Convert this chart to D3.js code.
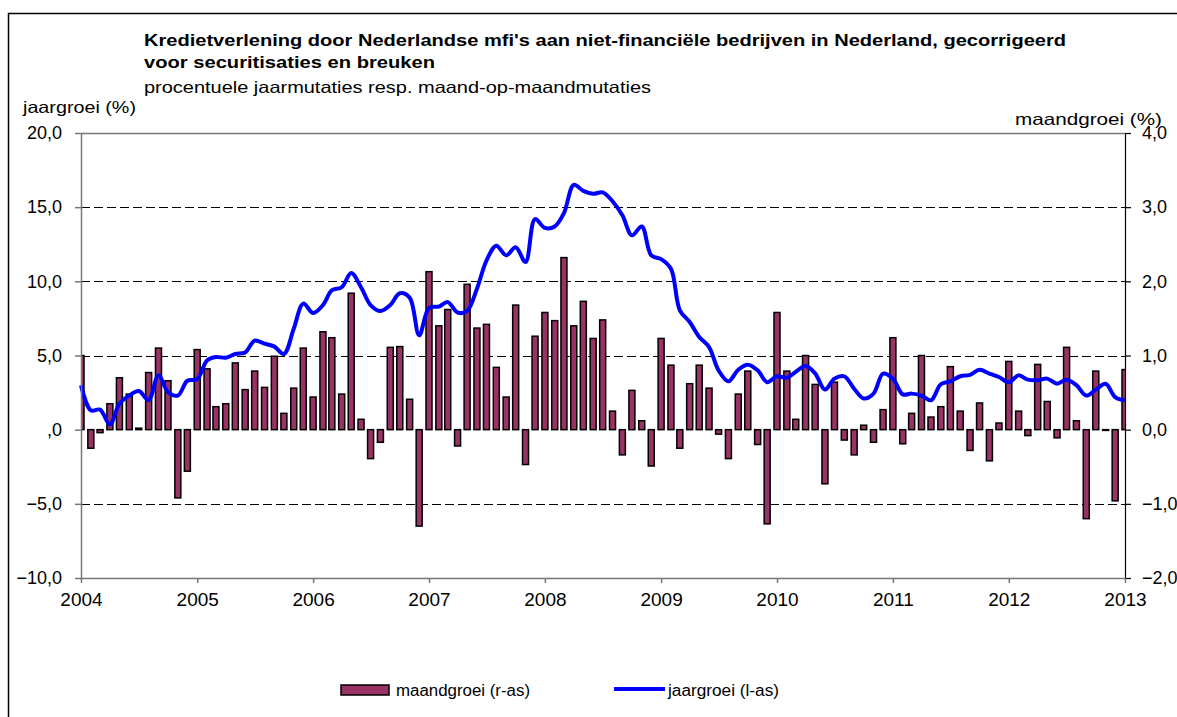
<!DOCTYPE html>
<html>
<head>
<meta charset="utf-8">
<script src="https://cdn.jsdelivr.net/npm/d3@7"></script>
<style>
  body { margin: 0; background: #fff; }
  svg { font-family: "Liberation Sans", Arial, sans-serif; }
</style>
</head>
<body>
<svg width="1177" height="717"></svg>
<script>
/* Data */
const months = d3.timeMonth.range(new Date(2004, 0, 1), new Date(2013, 1, 1)); // 2004-01 .. 2013-01
const years = d3.range(2004, 2014);

// maand-op-maandmutaties (%), rechter as
const maandgroei = [
  1.00, -0.25, -0.04, 0.35, 0.70, 0.48, 0.02, 0.77, 1.10, 0.66, -0.92, -0.56,
  1.08, 0.82, 0.31, 0.35, 0.90, 0.54, 0.79, 0.57, 0.99, 0.22, 0.56, 1.10,
  0.44, 1.32, 1.24, 0.48, 1.84, 0.14, -0.39, -0.17, 1.11, 1.12, 0.41, -1.30,
  2.13, 1.40, 1.62, -0.22, 1.96, 1.37, 1.42, 0.84, 0.44, 1.68, -0.47, 1.26,
  1.58, 1.47, 2.32, 1.40, 1.73, 1.23, 1.48, 0.25, -0.34, 0.53, 0.12, -0.49,
  1.23, 0.87, -0.25, 0.62, 0.87, 0.56, -0.06, -0.39, 0.48, 0.79, -0.20, -1.27,
  1.58, 0.79, 0.14, 1.00, 0.61, -0.73, 0.64, -0.14, -0.34, 0.06, -0.17, 0.27,
  1.24, -0.19, 0.22, 1.00, 0.17, 0.31, 0.85, 0.25, -0.28, 0.36, -0.42, 0.09,
  0.92, 0.25, -0.08, 0.88, 0.38, -0.11, 1.11, 0.12, -1.20, 0.79, -0.01, -0.96,
  0.81
];

// procentuele jaarmutaties (%), linker as
const jaargroei = [
  3.0, 1.3, 1.35, 0.35, 1.75, 2.3, 2.6, 2.0, 3.66, 2.54, 2.3, 3.3,
  3.4, 4.67, 4.9, 4.85, 5.1, 5.2, 6.0, 5.8, 5.6, 5.1, 6.8, 8.5,
  7.87, 8.4, 9.4, 9.6, 10.56, 9.6, 8.4, 8.0, 8.4, 9.2, 8.9, 6.36,
  8.2, 8.3, 8.6, 7.9, 8.0, 9.5, 11.4, 12.4, 11.75, 12.3, 11.3, 14.2,
  13.6, 13.7, 14.6, 16.5, 16.1, 15.9, 16.0, 15.4, 14.45, 13.1, 13.7, 11.75,
  11.5, 10.85, 8.05, 7.26, 6.25, 5.57, 4.0, 3.26, 4.04, 4.38, 4.0, 3.2,
  3.6, 3.5, 3.9, 4.3, 3.8, 2.7, 3.44, 3.6, 2.76, 2.1, 2.43, 3.78,
  3.44, 2.38, 2.43, 2.3, 1.98, 3.06, 3.26, 3.6, 3.7, 4.04, 3.78, 3.55,
  3.2, 3.66, 3.37, 3.33, 3.44, 3.1, 3.37, 3.0, 2.3, 2.7, 3.1, 2.2,
  1.98
];

const leftTicks = [20, 15, 10, 5, 0, -5, -10];
const rightTicks = [4, 3, 2, 1, 0, -1, -2];
const gridTicks = [15, 10, 5, -5];

/* Layout */
const svg = d3.select('svg');
const plot = { left: 81, right: 1125, top: 133, bottom: 578 };

/* Scales */
const x = d3.scaleTime()
  .domain([new Date(2004, 0, 1), new Date(2013, 0, 1)])
  .range([plot.left, plot.right]);
const yL = d3.scaleLinear().domain([-10, 20]).range([plot.bottom, plot.top]);
const yR = d3.scaleLinear().domain([-2, 4]).range([plot.bottom, plot.top]);

const fmt = d => d === 0 ? ',0' : d3.format('.1f')(d).replace('.', ',');

/* Frame */
svg.append('rect')
  .attr('x', 8.5).attr('y', 13.5)
  .attr('width', 1300).attr('height', 800)
  .attr('fill', 'none').attr('stroke', '#000').attr('stroke-width', 1.5);

/* Titles */
const titles = [
  { text: "Kredietverlening door Nederlandse mfi's aan niet-financiële bedrijven in Nederland, gecorrigeerd", y: 46, len: 922, bold: true },
  { text: 'voor securitisaties en breuken', y: 68, len: 291, bold: true },
  { text: 'procentuele jaarmutaties resp. maand-op-maandmutaties', y: 93, len: 507, bold: false }
];
svg.selectAll('text.title').data(titles).enter().append('text')
  .attr('class', 'title')
  .attr('x', 144).attr('y', d => d.y)
  .attr('font-size', 16.5)
  .attr('font-weight', d => d.bold ? 'bold' : 'normal')
  .attr('textLength', d => d.len)
  .attr('lengthAdjust', 'spacingAndGlyphs')
  .text(d => d.text);

svg.append('text').attr('x', 23).attr('y', 113)
  .attr('font-size', 16.5).attr('textLength', 113).attr('lengthAdjust', 'spacingAndGlyphs')
  .text('jaargroei (%)');
svg.append('text').attr('x', 1015).attr('y', 125)
  .attr('font-size', 16.5).attr('textLength', 147).attr('lengthAdjust', 'spacingAndGlyphs')
  .text('maandgroei (%)');

/* Gridlines */
svg.append('g').selectAll('line').data(gridTicks).enter().append('line')
  .attr('x1', plot.left).attr('x2', plot.right)
  .attr('y1', d => Math.round(yL(d)) + 0.5).attr('y2', d => Math.round(yL(d)) + 0.5)
  .attr('stroke', '#000').attr('stroke-dasharray', '9,4');

// top border of plot
svg.append('line')
  .attr('x1', plot.left).attr('x2', plot.right)
  .attr('y1', plot.top + 0.5).attr('y2', plot.top + 0.5)
  .attr('stroke', '#777').attr('stroke-width', 1.5);

/* Bars */
svg.append('clipPath').attr('id', 'clip').append('rect')
  .attr('x', plot.left).attr('y', plot.top)
  .attr('width', plot.right - plot.left).attr('height', plot.bottom - plot.top);

svg.append('g').attr('clip-path', 'url(#clip)')
  .selectAll('rect').data(months).enter().append('rect')
  .attr('x', d => x(d) - 3)
  .attr('width', 6)
  .attr('y', (d, i) => Math.min(yR(maandgroei[i]), yR(0)))
  .attr('height', (d, i) => Math.abs(yR(maandgroei[i]) - yR(0)))
  .attr('fill', '#993366')
  .attr('stroke', '#000')
  .attr('stroke-width', 1.5);

/* Line */
const line = d3.line()
  .x(d => x(d))
  .y((d, i) => yL(jaargroei[i]))
  .curve(d3.curveCatmullRom.alpha(0.5));

svg.append('path')
  .datum(months)
  .attr('d', line)
  .attr('fill', 'none')
  .attr('stroke', '#0000ff')
  .attr('stroke-width', 4)
  .attr('stroke-linejoin', 'round');

/* Axes */
const gLeft = svg.append('g')
  .attr('transform', `translate(${plot.left},0)`)
  .call(d3.axisLeft(yL).tickValues(leftTicks).tickFormat(fmt).tickSize(6).tickPadding(13).tickSizeOuter(0));
gLeft.selectAll('path, line').attr('stroke', '#777').attr('stroke-width', 1.5);

const gRight = svg.append('g')
  .attr('transform', `translate(${plot.right},0)`)
  .call(d3.axisRight(yR).tickValues(rightTicks).tickFormat(d => d3.format('.1f')(d).replace('.', ',')).tickSize(6).tickPadding(11).tickSizeOuter(0));
gRight.selectAll('path, line').attr('stroke', '#000').attr('stroke-width', 1.2);

const gBottom = svg.append('g')
  .attr('transform', `translate(0,${plot.bottom})`)
  .call(d3.axisBottom(x).tickValues(years.map(y => new Date(y, 0, 1))).tickFormat(d3.timeFormat('%Y')).tickSize(5).tickPadding(10).tickSizeOuter(0));
gBottom.selectAll('path, line').attr('stroke', '#777').attr('stroke-width', 1.5);

svg.selectAll('.tick text')
  .attr('font-family', '"Liberation Sans", Arial, sans-serif')
  .attr('fill', '#000');
gLeft.selectAll('.tick text').attr('font-size', 18);
gRight.selectAll('.tick text').attr('font-size', 18);
gBottom.selectAll('.tick text').attr('font-size', 19);

/* Legend */
const legend = svg.append('g');
legend.append('rect')
  .attr('x', 341).attr('y', 685).attr('width', 48).attr('height', 10)
  .attr('fill', '#993366').attr('stroke', '#000').attr('stroke-width', 1.5);
legend.append('text').attr('x', 396).attr('y', 696)
  .attr('font-size', 16).attr('textLength', 134).attr('lengthAdjust', 'spacingAndGlyphs')
  .text('maandgroei (r-as)');
legend.append('line')
  .attr('x1', 614).attr('x2', 665).attr('y1', 689).attr('y2', 689)
  .attr('stroke', '#0000ff').attr('stroke-width', 4);
legend.append('text').attr('x', 668).attr('y', 696)
  .attr('font-size', 16).attr('textLength', 111).attr('lengthAdjust', 'spacingAndGlyphs')
  .text('jaargroei (l-as)');
</script>
</body>
</html>
